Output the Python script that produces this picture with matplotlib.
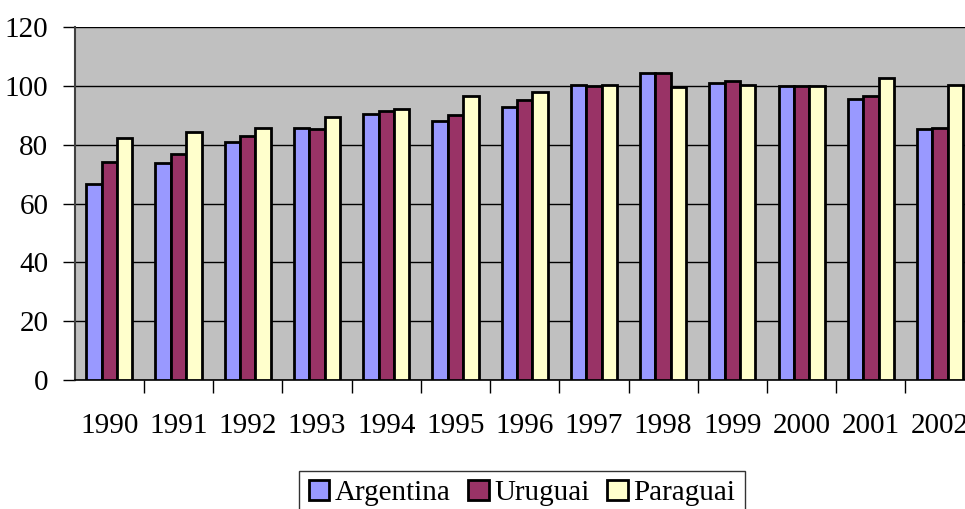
import numpy as np
import matplotlib
matplotlib.use("Agg")
import matplotlib.pyplot as plt

anos = ["1990", "1991", "1992", "1993", "1994", "1995", "1996",
        "1997", "1998", "1999", "2000", "2001", "2002"]
argentina = [66.7, 73.9, 80.9, 85.7, 90.6, 88.1, 92.8, 100.5, 104.4, 101.0, 100.0, 95.7, 85.4]
uruguai = [74.3, 77.0, 83.1, 85.4, 91.5, 90.0, 95.1, 100.0, 104.4, 101.6, 100.0, 96.5, 85.9]
paraguai = [82.4, 84.4, 85.9, 89.4, 92.3, 96.6, 98.0, 100.2, 99.7, 100.5, 100.0, 102.6, 100.5]

series = [("Argentina", argentina, "#9999FF"),
          ("Uruguai", uruguai, "#993366"),
          ("Paraguai", paraguai, "#FFFFCC")]

plt.rcParams["font.family"] = ["Liberation Serif", "DejaVu Serif"]

W, H = 965, 509
fig = plt.figure(figsize=(W / 100, H / 100), dpi=100)
# the plot area runs past the right edge of the picture, as in the original
ax = fig.add_axes([74.7 / W, (H - 380) / H, 900 / W, 352.7 / H])
ax.set_facecolor("#C0C0C0")

x = np.arange(len(anos))
w = 1 / 4.5
for i, (nome, vals, cor) in enumerate(series):
    ax.bar(x + (i - 1) * w, vals, w, color=cor, edgecolor="black",
           linewidth=2, label=nome, zorder=3)

ax.set_xlim(-0.5, len(anos) - 0.5)
ax.set_ylim(0, 120)
ax.set_yticks(range(0, 121, 20))
ax.yaxis.grid(True, color="black", linewidth=1, zorder=1)
ax.set_xticks(x)
ax.set_xticklabels(anos)
ax.set_xticks(np.arange(-0.5, len(anos), 1)[1:], minor=True)
ax.tick_params(axis="x", which="major", length=0, pad=24, labelsize=21)
ax.tick_params(axis="x", which="minor", length=9, width=1, direction="out")
ax.tick_params(axis="y", length=9, width=1, pad=10, labelsize=21)

for s in ["top", "right"]:
    ax.spines[s].set_visible(False)
ax.spines["left"].set_color("#404040")
ax.spines["left"].set_linewidth(1.5)
ax.spines["bottom"].set_linewidth(1.2)

leg = fig.legend(loc="upper center", bbox_to_anchor=(0.541, 1 - 470.7 / H),
                 ncol=3, fontsize=21, frameon=True, fancybox=False,
                 edgecolor="black", handlelength=0.7, handleheight=0.7,
                 handletextpad=0.2, columnspacing=0.6, borderpad=0.32,
                 borderaxespad=0)
leg.get_frame().set_linewidth(1)

fig.savefig("out.png", dpi=100)
